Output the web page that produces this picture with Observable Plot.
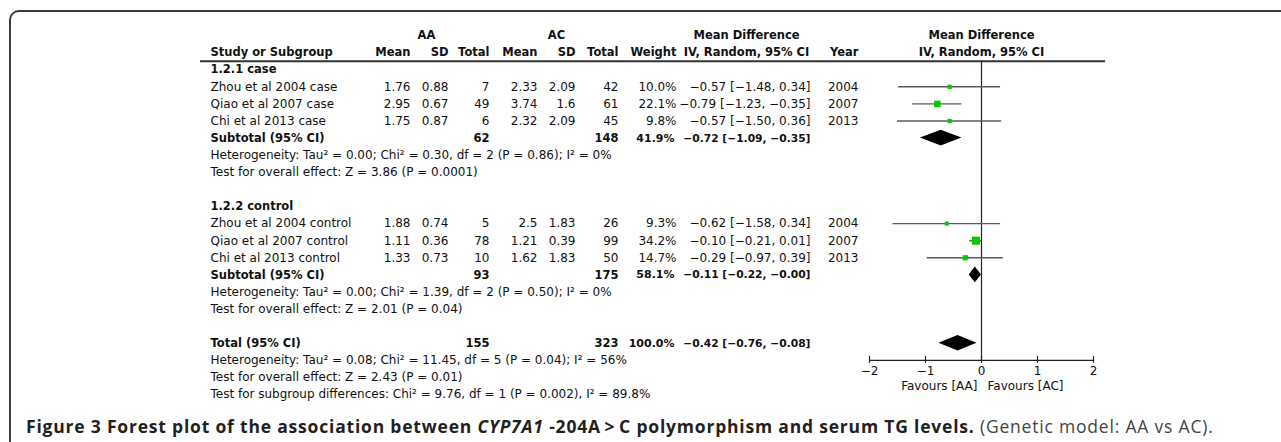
<!DOCTYPE html>
<html><head><meta charset="utf-8">
<script src="https://cdn.jsdelivr.net/npm/d3@7"></script>
<script src="https://cdn.jsdelivr.net/npm/@observablehq/plot@0.6"></script>
<style>
html,body{margin:0;padding:0;background:#fff;}
#wrap{position:relative;width:1281px;height:442px;overflow:hidden;}
#frame{position:absolute;left:9px;top:10px;width:1400px;height:600px;border-top:2px solid #3a3a3a;border-left:2px solid #3a3a3a;border-top-left-radius:10px;}
#chart{position:absolute;left:0;top:0;}
#caption{position:absolute;left:26px;top:414px;font-family:"Open Sans",sans-serif;font-size:17.5px;letter-spacing:0.8px;white-space:nowrap;color:#231f20;}
#caption .lt{font-weight:normal;color:#444;}
</style></head>
<body>
<div id="wrap"><div id="frame"></div><div id="chart"></div>
<div id="caption"><b>Figure 3 Forest plot of the association between <i>CYP7A1</i> -204A&#8198;&gt;&#8198;C polymorphism and serum TG levels.</b> <span class="lt">(Genetic model: AA vs AC).</span></div>
</div>
<script>
// ---------- data ----------
const studies = ["Zhou et al 2004 case", "Qiao et al 2007 case", "Chi et al 2013 case",
                 "Zhou et al 2004 control", "Qiao et al 2007 control", "Chi et al 2013 control"];
const studyGroup = [0, 0, 0, 1, 1, 1];
const years = [2004, 2007, 2013, 2004, 2007, 2013];
const meanAA = [1.76, 2.95, 1.75, 1.88, 1.11, 1.33];
const sdAA = [0.88, 0.67, 0.87, 0.74, 0.36, 0.73];
const totalAA = [7, 49, 6, 5, 78, 10];
const meanAC = [2.33, 3.74, 2.32, 2.5, 1.21, 1.62];
const sdAC = [2.09, 1.6, 2.09, 1.83, 0.39, 1.83];
const totalAC = [42, 61, 45, 26, 99, 50];
const weights = [10.0, 22.1, 9.8, 9.3, 34.2, 14.7];
const meanDiff = [-0.57, -0.79, -0.57, -0.62, -0.10, -0.29];
const ciLow = [-1.48, -1.23, -1.50, -1.58, -0.21, -0.97];
const ciHigh = [0.34, -0.35, 0.36, 0.34, 0.01, 0.39];

const subgroupNames = ["1.2.1 case", "1.2.2 control"];
const summaryLabels = ["Subtotal (95% CI)", "Subtotal (95% CI)", "Total (95% CI)"];
const summaryTotalAA = [62, 93, 155];
const summaryTotalAC = [148, 175, 323];
const summaryWeight = [41.9, 58.1, 100.0];
const summaryMD = [-0.72, -0.11, -0.42];
const summaryLow = [-1.09, -0.22, -0.76];
const summaryHigh = [-0.35, -0.00, -0.08];

const heterogeneity = [
  "Heterogeneity: Tau² = 0.00; Chi² = 0.30, df = 2 (P = 0.86); I² = 0%",
  "Heterogeneity: Tau² = 0.00; Chi² = 1.39, df = 2 (P = 0.50); I² = 0%",
  "Heterogeneity: Tau² = 0.08; Chi² = 11.45, df = 5 (P = 0.04); I² = 56%"];
const overallEffect = [
  "Test for overall effect: Z = 3.86 (P = 0.0001)",
  "Test for overall effect: Z = 2.01 (P = 0.04)",
  "Test for overall effect: Z = 2.43 (P = 0.01)"];
const subgroupDiff = "Test for subgroup differences: Chi² = 9.76, df = 1 (P = 0.002), I² = 89.8%";
const axisTicks = [-2, -1, 0, 1, 2];
const favourLabels = ["Favours [AA]", "Favours [AC]"];

// ---------- layout ----------
const W = 1281, H = 405, ML = 869, MR = 188;
const ROW0 = 35, STEP = 17.1, NROWS = 21;
const AXIS_ROW = 19, RULE_ROW = 1.5;
const FS = 12, FSB = 11.5, FSN = 10.7;
const C = {study: 210, meanAA: 410, sdAA: 448, totalAA: 489, meanAC: 537, sdAC: 575,
           totalAC: 618, weight: 676, ci: 810, year: 858, aa: 426, ac: 556, md: 746};
const fmt = v => (v < 0 || Object.is(v, -0) ? "\u2212" : "") + Math.abs(v).toFixed(2);
const ciText = (m, l, h) => `${fmt(m)} [${fmt(l)}, ${fmt(h)}]`;

// rows
const studyRows = studies.map((s, i) => {
  const within = studyGroup.slice(0, i).filter(g => g === studyGroup[i]).length;
  return {slot: studyGroup[i] * 8 + 3 + within, name: s, meanAA: String(meanAA[i]), sdAA: String(sdAA[i]),
    totalAA: String(totalAA[i]), meanAC: String(meanAC[i]), sdAC: String(sdAC[i]), totalAC: String(totalAC[i]),
    weight: weights[i].toFixed(1) + "%", ci: ciText(meanDiff[i], ciLow[i], ciHigh[i]), year: String(years[i]),
    md: meanDiff[i], lo: ciLow[i], hi: ciHigh[i], w: weights[i]};
});
const summarySlots = [6, 14, 18];
const summaryRows = summaryLabels.map((s, i) => ({slot: summarySlots[i], name: s,
  totalAA: String(summaryTotalAA[i]), totalAC: String(summaryTotalAC[i]),
  weight: summaryWeight[i].toFixed(1) + "%", ci: ciText(summaryMD[i], summaryLow[i], summaryHigh[i]),
  md: summaryMD[i], lo: summaryLow[i], hi: summaryHigh[i]}));
const groupRows = subgroupNames.map((s, i) => ({slot: i * 8 + 2, name: s}));
const statRows = [
  ...heterogeneity.map((s, i) => ({slot: [7, 15, 19][i], text: s})),
  ...overallEffect.map((s, i) => ({slot: [8, 16, 20][i], text: s})),
  {slot: 21, text: subgroupDiff}];

const DH = 7.8 / STEP; // diamond half-height in row units
const diamondPts = summaryRows.flatMap((d, i) => [
  {z: i, y: d.slot - DH, x1: d.md, x2: d.md},
  {z: i, y: d.slot, x1: d.lo, x2: d.hi},
  {z: i, y: d.slot + DH, x1: d.md, x2: d.md}]);

function col(data, field, at, anchor = "end", bold = false, size) {
  return Plot.text(data, {text: field, y: "slot", frameAnchor: "left", dx: at - ML,
    textAnchor: anchor, fontWeight: bold ? "bold" : "normal", fontSize: size ?? (bold ? FSB : FS), fill: "#111"});
}
function head(label, slot, at, anchor) {
  return Plot.text([label], {text: d => d, y: () => slot, frameAnchor: "left", dx: at - ML,
    textAnchor: anchor, fontWeight: "bold", fontSize: FSB, fill: "#111"});
}

const chart = Plot.plot({
  width: W, height: H, marginLeft: ML, marginRight: MR, marginTop: 0, marginBottom: 0,
  x: {domain: [-2, 2], axis: null},
  y: {domain: [0, NROWS], range: [ROW0, ROW0 + NROWS * STEP], axis: null},
  r: {type: "sqrt", domain: [0, 40], range: [0, 4.9]},
  style: {fontFamily: "'DejaVu Sans', sans-serif", fontSize: "12px", background: "transparent", overflow: "visible"},
  marks: [
    // header
    head("AA", 0, C.aa, "middle"), head("AC", 0, C.ac, "middle"), head("Mean Difference", 0, C.md, "middle"),
    Plot.text(["Mean Difference"], {x: () => 0, y: () => 0, text: d => d, fontWeight: "bold", fontSize: FSB, fill: "#111"}),
    head("Study or Subgroup", 1, C.study, "start"), head("Mean", 1, C.meanAA, "end"), head("SD", 1, C.sdAA, "end"),
    head("Total", 1, C.totalAA, "end"), head("Mean", 1, C.meanAC, "end"), head("SD", 1, C.sdAC, "end"),
    head("Total", 1, C.totalAC, "end"), head("Weight", 1, C.weight, "end"),
    head("IV, Random, 95% CI", 1, C.md, "middle"), head("Year", 1, C.year, "end"),
    Plot.text(["IV, Random, 95% CI"], {x: () => 0, y: () => 1, text: d => d, fontWeight: "bold", fontSize: FSB, fill: "#111"}),
    Plot.ruleY([RULE_ROW], {insetLeft: -(ML - 200), insetRight: -12, stroke: "#333", strokeWidth: 2}),
    // group labels
    col(groupRows, "name", C.study, "start", true),
    // study rows
    col(studyRows, "name", C.study, "start"),
    col(studyRows, "meanAA", C.meanAA), col(studyRows, "sdAA", C.sdAA), col(studyRows, "totalAA", C.totalAA),
    col(studyRows, "meanAC", C.meanAC), col(studyRows, "sdAC", C.sdAC), col(studyRows, "totalAC", C.totalAC),
    col(studyRows, "weight", C.weight), col(studyRows, "ci", C.ci), col(studyRows, "year", C.year),
    // summaries
    col(summaryRows, "name", C.study, "start", true),
    col(summaryRows, "totalAA", C.totalAA, "end", true), col(summaryRows, "totalAC", C.totalAC, "end", true),
    col(summaryRows, "weight", C.weight - 2, "end", true, 11), col(summaryRows, "ci", C.ci, "end", true, FSN),
    // stats
    col(statRows, "text", C.study, "start"),
    // forest
    Plot.ruleX([0], {y1: RULE_ROW, y2: AXIS_ROW, stroke: "#222", strokeWidth: 1.2}),
    Plot.ruleY(studyRows, {y: "slot", x1: "lo", x2: "hi", stroke: "#5a5a5a", strokeWidth: 1.4}),
    Plot.dot(studyRows, {x: "md", y: "slot", r: "w", symbol: "square", fill: "#00cc00", stroke: null}),
    Plot.areaX(diamondPts, {y: "y", x1: "x1", x2: "x2", z: "z", fill: "#000"}),
    // axis
    Plot.ruleY([AXIS_ROW], {stroke: "#222", strokeWidth: 1.2}),
    Plot.ruleX(axisTicks, {x: d => d, y1: () => AXIS_ROW, y2: () => AXIS_ROW, insetTop: -4, insetBottom: -3, stroke: "#222", strokeWidth: 1.2}),
    Plot.text(axisTicks, {x: d => d, y: () => AXIS_ROW, dy: 11, text: d => (d < 0 ? "\u2212" : "") + Math.abs(d), fontSize: FS, fill: "#111"}),
    Plot.text([favourLabels[0]], {x: () => 0, y: () => AXIS_ROW, dy: 26, dx: -4, textAnchor: "end", text: d => d, fontSize: FS, fill: "#111"}),
    Plot.text([favourLabels[1]], {x: () => 0, y: () => AXIS_ROW, dy: 26, dx: 6, textAnchor: "start", text: d => d, fontSize: FS, fill: "#111"})
  ]
});
document.getElementById("chart").appendChild(chart);
</script>
</body></html>
